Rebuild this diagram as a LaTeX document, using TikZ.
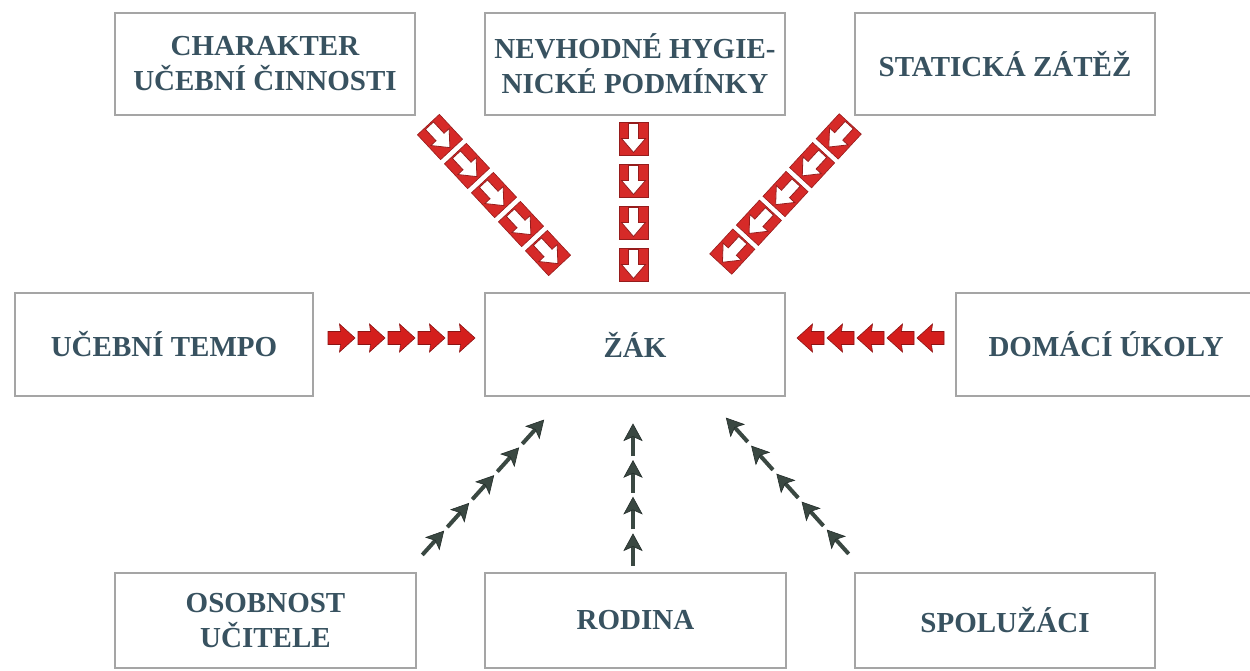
\documentclass[tikz,border=0pt]{standalone}
\usepackage{fontspec}
\setmainfont{Liberation Serif}
\usetikzlibrary{decorations.markings}

\definecolor{labelblue}{RGB}{56,82,96}
\definecolor{framegray}{RGB}{165,165,165}
\definecolor{tilered}{RGB}{214,42,40}
\definecolor{tileedge}{RGB}{150,28,28}
\definecolor{pushred}{RGB}{212,30,28}
\definecolor{pushedge}{RGB}{140,20,20}
\definecolor{pulldark}{RGB}{58,72,66}
\definecolor{pulledge}{RGB}{35,45,42}

% red square tile with a white arrow, pointing along +x
\newcommand{\warntile}{%
  \filldraw[fill=tilered, draw=tileedge, line width=0.6pt] (-16.5,-14.5) rectangle (16.5,14.5);
  \filldraw[fill=white, draw=tileedge, line width=0.8pt]
    (-15,-5) -- (0,-5) -- (0,-12) -- (14,0) -- (0,12) -- (0,5) -- (-15,5) -- cycle;
}
% slightly larger tile for the slanted rows
\newcommand{\warntilebig}{%
  \filldraw[fill=tilered, draw=tileedge, line width=0.6pt] (-17,-15) rectangle (17,15);
  \filldraw[fill=white, draw=tileedge, line width=0.8pt]
    (-15.5,-5.5) -- (0,-5.5) -- (0,-12.5) -- (14.5,0) -- (0,12.5) -- (0,5.5) -- (-15.5,5.5) -- cycle;
}
% solid red block arrow
\newcommand{\fatarrow}{%
  \filldraw[fill=pushred, draw=pushedge, line width=0.6pt]
    (-13.5,-6.5) -- (-1,-6.5) -- (-2,-14) -- (13.5,0) -- (-2,14) -- (-1,6.5) -- (-13.5,6.5) -- cycle;
}
% slim dark arrow
\newcommand{\slimarrow}{%
  \draw[pulldark, line width=4pt] (-16,0) -- (4,0);
  \filldraw[fill=pulldark, draw=pulledge, line width=0.6pt]
    (16,0) -- (-0.5,-9) -- (3.5,0) -- (-0.5,9) -- cycle;
}

\tikzset{
  box/.style={draw=framegray, line width=1.5pt, fill=white, inner sep=0pt,
    align=center, text=labelblue,
    font=\fontsize{29}{35}\selectfont\bfseries},
  fivemarks/.style={postaction={decorate}, decoration={markings,
    mark=at position 0.1 with {#1}, mark=at position 0.3 with {#1},
    mark=at position 0.5 with {#1}, mark=at position 0.7 with {#1},
    mark=at position 0.9 with {#1}}},
  fourmarks/.style={postaction={decorate}, decoration={markings,
    mark=at position 0.125 with {#1}, mark=at position 0.375 with {#1},
    mark=at position 0.625 with {#1}, mark=at position 0.875 with {#1}}},
}

\begin{document}
\begin{tikzpicture}[x=1pt, y=-1pt]
\useasboundingbox (0,0) rectangle (1250,671);
\fill[white] (0,0) rectangle (1250,671);

% boxes
\node[box, minimum width=300pt, minimum height=102pt] (charakter) at (265,64) {CHARAKTER\\UČEBNÍ ČINNOSTI};
\node[box, minimum width=300pt, minimum height=102pt] (hygiena) at (635,64) {NEVHODNÉ HYGIE-\\NICKÉ PODMÍNKY};
\node[box, minimum width=300pt, minimum height=102pt] (zatez) at (1005,64) {STATICKÁ ZÁTĚŽ};

\node[box, minimum width=298pt, minimum height=103pt] (tempo) at (164,344.5) {UČEBNÍ TEMPO};
\node[box, minimum width=300pt, minimum height=103pt] (zak) at (635,344.5) {ŽÁK};
\node[box, minimum width=300pt, minimum height=103pt] (ukoly) at (1106,344.5) {DOMÁCÍ ÚKOLY};

\node[box, minimum width=301pt, minimum height=95pt] (ucitel) at (265.5,620.5) {OSOBNOST\\UČITELE};
\node[box, minimum width=301pt, minimum height=95pt] (rodina) at (635.5,620.5) {RODINA};
\node[box, minimum width=300pt, minimum height=95pt] (spoluzaci) at (1005,620.5) {SPOLUŽÁCI};

% ends of the arrow chains
\coordinate (a1) at (426.5,122.5);  \coordinate (a2) at (561.5,267.5);
\coordinate (b1) at (633.5,117.5);  \coordinate (b2) at (633.5,285.5);
\coordinate (c1) at (852,122);      \coordinate (c2) at (719,266);
\coordinate (d1) at (326.5,338);    \coordinate (d2) at (476.5,338);
\coordinate (e1) at (945.5,338);    \coordinate (e2) at (795.5,338);
\coordinate (f1) at (420.5,556.9);  \coordinate (f2) at (545.5,418.1);
\coordinate (g1) at (633,568.3);    \coordinate (g2) at (633,421.7);
\coordinate (h1) at (850.6,556);    \coordinate (h2) at (724.4,416);

% upper influences
\path[fivemarks=\warntilebig] (a1) -- (a2);
\path[fourmarks=\warntile] (b1) -- (b2);
\path[fivemarks=\warntilebig] (c1) -- (c2);

% side influences
\path[fivemarks=\fatarrow] (d1) -- (d2);
\path[fivemarks=\fatarrow] (e1) -- (e2);

% lower influences
\path[fivemarks=\slimarrow] (f1) -- (f2);
\path[fourmarks=\slimarrow] (g1) -- (g2);
\path[fivemarks=\slimarrow] (h1) -- (h2);
\end{tikzpicture}
\end{document}
